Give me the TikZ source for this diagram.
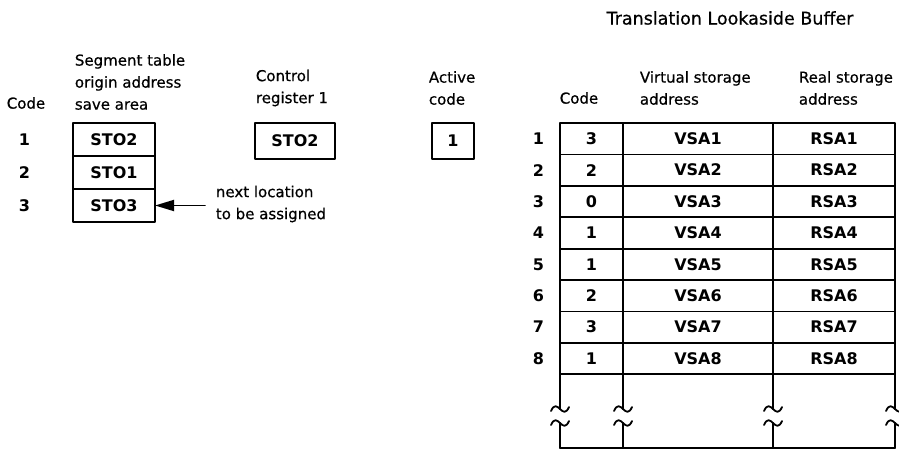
\documentclass[tikz,border=0pt]{standalone}
\usepackage{fontspec}
\setmainfont{DejaVu Sans}
\newfontfamily\headfont{DejaVu Sans}[FakeBold=0.6]
\usetikzlibrary{arrows.meta,positioning}

\begin{document}
\begin{tikzpicture}[x=1pt, y=1pt, line cap=round, line join=round, line width=1.8pt, font=\headfont\fontsize{15}{22}\selectfont]
	\tikzset{cell/.style={draw, rectangle, inner sep=0pt, outer sep=0pt, minimum height=33pt, font=\fontsize{16}{19}\selectfont\bfseries},
		head/.style={align=left, inner sep=0pt, anchor=west},
		num/.style={inner sep=0pt, font=\fontsize{16}{19}\selectfont\bfseries}}
	\useasboundingbox (0,0) rectangle (899,-450);
	% headings
	\node[font=\headfont\fontsize{17.5}{20}\selectfont] (tlb) at (730,-18) {Translation Lookaside Buffer};
	\node (lcode) at (26,-103) {Code};
	\node[head] (stoh) at (74,-82) {Segment table\\origin address\\save area};
	\node[head] (crh) at (255,-88) {Control\\register 1};
	\node[head] (acth) at (428,-88) {Active\\code};
	\node (tcode) at (579,-98) {Code};
	\node[head] (vsah) at (639,-88) {Virtual storage\\address};
	\node[head] (rsah) at (798,-88) {Real storage\\address};
	% save area
	\node[cell, minimum width=82pt, anchor=north west] (sto1) at (73,-123) {STO2};
	\node[cell, minimum width=82pt, anchor=north] (sto2) at (sto1.south) {STO1};
	\node[cell, minimum width=82pt, anchor=north] (sto3) at (sto2.south) {STO3};
	\node[num, left=42pt of sto1] (s1) {1};
	\node[num, left=42pt of sto2] (s2) {2};
	\node[num, left=42pt of sto3] (s3) {3};
	\node[cell, minimum width=80pt, minimum height=36pt, anchor=north west] (cr1) at (255,-123) {STO2};
	\node[cell, minimum width=42pt, minimum height=36pt, anchor=north west] (act) at (432,-123) {1};
	\node[head] (nlt) at (215,-204) {next location\\to be assigned};
	\coordinate[right=50pt of sto3.east] (nl);
	\draw[-{Triangle[length=19pt,width=11pt]}] (nl) -- (sto3.east);
	% TLB
	\foreach \i/\c in {1/3,2/2,3/0,4/1,5/1,6/2,7/3,8/1}{
		\node[cell, minimum width=63pt, minimum height=31.4pt, anchor=north west] (code\i) at (560,{-123-31.4*(\i-1)}) {\c};
		\node[cell, minimum width=150pt, minimum height=31.4pt, anchor=west] (vsa\i) at (code\i.east) {VSA\i};
		\node[cell, minimum width=122pt, minimum height=31.4pt, anchor=west] (rsa\i) at (vsa\i.east) {RSA\i};
		\node[num, left=15pt of code\i] (row\i) {\i};
	}
	\foreach \x in {560,623,773,895}{
		\draw (\x,-374.2) -- (\x,-409);
		\draw (\x,-423) -- (\x,-448);
		\foreach \y in {409,423}
			\draw (\x-9,-\y-2) .. controls (\x-6,-\y+5) and (\x-3,-\y+3) .. (\x,-\y) .. controls (\x+3,-\y-3) and (\x+6,-\y-5) .. (\x+9,-\y+2);
	}
	\draw (560,-448) -- (895,-448);
\end{tikzpicture}
\end{document}
